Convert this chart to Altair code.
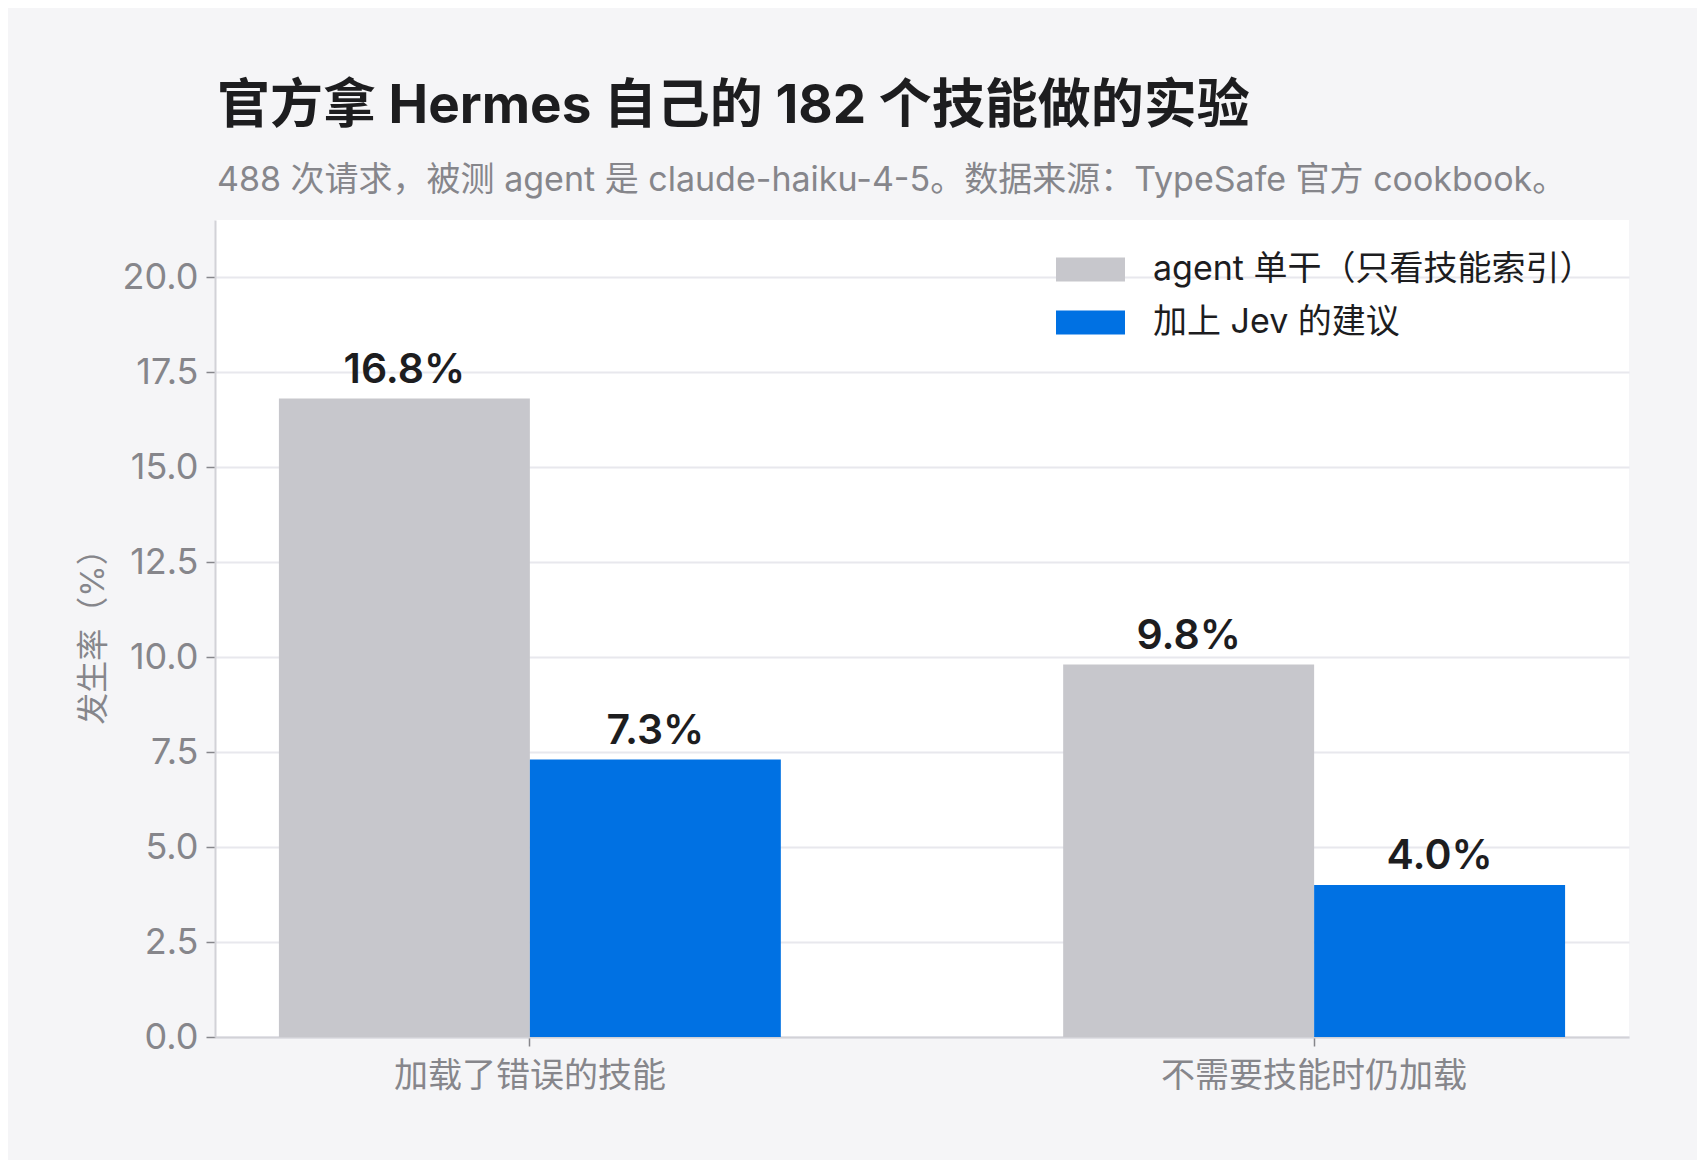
import altair as alt
import pandas as pd

FONT = "Inter, 'Noto Sans CJK SC'"

categories = ["加载了错误的技能", "不需要技能时仍加载"]
groups = ["agent 单干（只看技能索引）", "加上 Jev 的建议"]
baseline_vals = [16.8, 9.8]
jev_vals = [7.3, 4.0]
colors = ["#c7c7cc", "#0071e3"]

rows = []
for i, cat in enumerate(categories):
    rows.append({"cat": cat, "grp": groups[0], "val": baseline_vals[i]})
    rows.append({"cat": cat, "grp": groups[1], "val": jev_vals[i]})
df = pd.DataFrame(rows)
df["label"] = df["val"].map(lambda v: f"{v:.1f}%")

x = alt.X(
    "cat:N",
    sort=categories,
    title=None,
    scale=alt.Scale(paddingInner=0.36, paddingOuter=0.0815),
    axis=alt.Axis(labelAngle=0, labelFontSize=34, labelColor="#86868b",
                  labelPadding=13, labelLimit=800, tickSize=9, tickColor="#86868b",
                  tickWidth=1.5, domainColor="#d2d2d7", domainWidth=2, grid=False),
)
x_off = alt.XOffset("grp:N", sort=groups, scale=alt.Scale(paddingInner=0, paddingOuter=0))
y = alt.Y(
    "val:Q",
    title="发生率（%）",
    scale=alt.Scale(domain=[0, 21.5], nice=False),
    axis=alt.Axis(values=[0, 2.5, 5, 7.5, 10, 12.5, 15, 17.5, 20], format=".1f",
                  labelFontSize=36, labelColor="#86868b", labelPadding=8,
                  tickSize=9, tickColor="#86868b", tickWidth=1.5,
                  domainColor="#d2d2d7", domainWidth=2,
                  gridColor="#e8e8ed", gridWidth=2,
                  titleFontSize=32, titleColor="#86868b", titleFontWeight="normal",
                  titlePadding=12),
)

symbol_path = "M-1,-0.348H1V0.348H-1Z"

bars = alt.Chart(df).mark_bar().encode(
    x=x,
    xOffset=x_off,
    y=y,
    color=alt.Color(
        "grp:N",
        sort=groups,
        scale=alt.Scale(domain=groups, range=colors),
        legend=alt.Legend(title=None, orient="none", legendX=841, legendY=15,
                          symbolType=symbol_path, symbolSize=4761,
                          symbolStrokeWidth=0, symbolOpacity=1,
                          labelFontSize=34, labelColor="#1d1d1f",
                          labelOffset=28, rowPadding=1, labelLimit=600),
    ),
)

labels = alt.Chart(df).mark_text(
    dy=-16, baseline="alphabetic", fontSize=41, fontWeight=600, color="#1d1d1f"
).encode(x=x, xOffset=x_off, y=alt.Y("val:Q"), text="label:N")

chart = (
    alt.layer(bars, labels)
    .properties(
        width=1414,
        height=817,
        autosize=alt.AutoSizeParams(type="none"),
        padding={"left": 207, "top": 212, "right": 68, "bottom": 123},
        title=alt.Title(
            "官方拿 Hermes 自己的 182 个技能做的实验",
            subtitle="488 次请求，被测 agent 是 claude-haiku-4-5。数据来源：TypeSafe 官方 cookbook。",
            anchor="start", frame="group", dx=2,
            fontSize=53, fontWeight="bold", color="#1d1d1f",
            subtitleFontSize=34, subtitleColor="#86868b",
            subtitlePadding=30, offset=22,
        ),
    )
    .configure(background="#f5f5f7", font=FONT)
    .configure_view(fill="white", stroke=None)
)

chart.save("out.html", embed_options={"renderer": "svg", "actions": False})
